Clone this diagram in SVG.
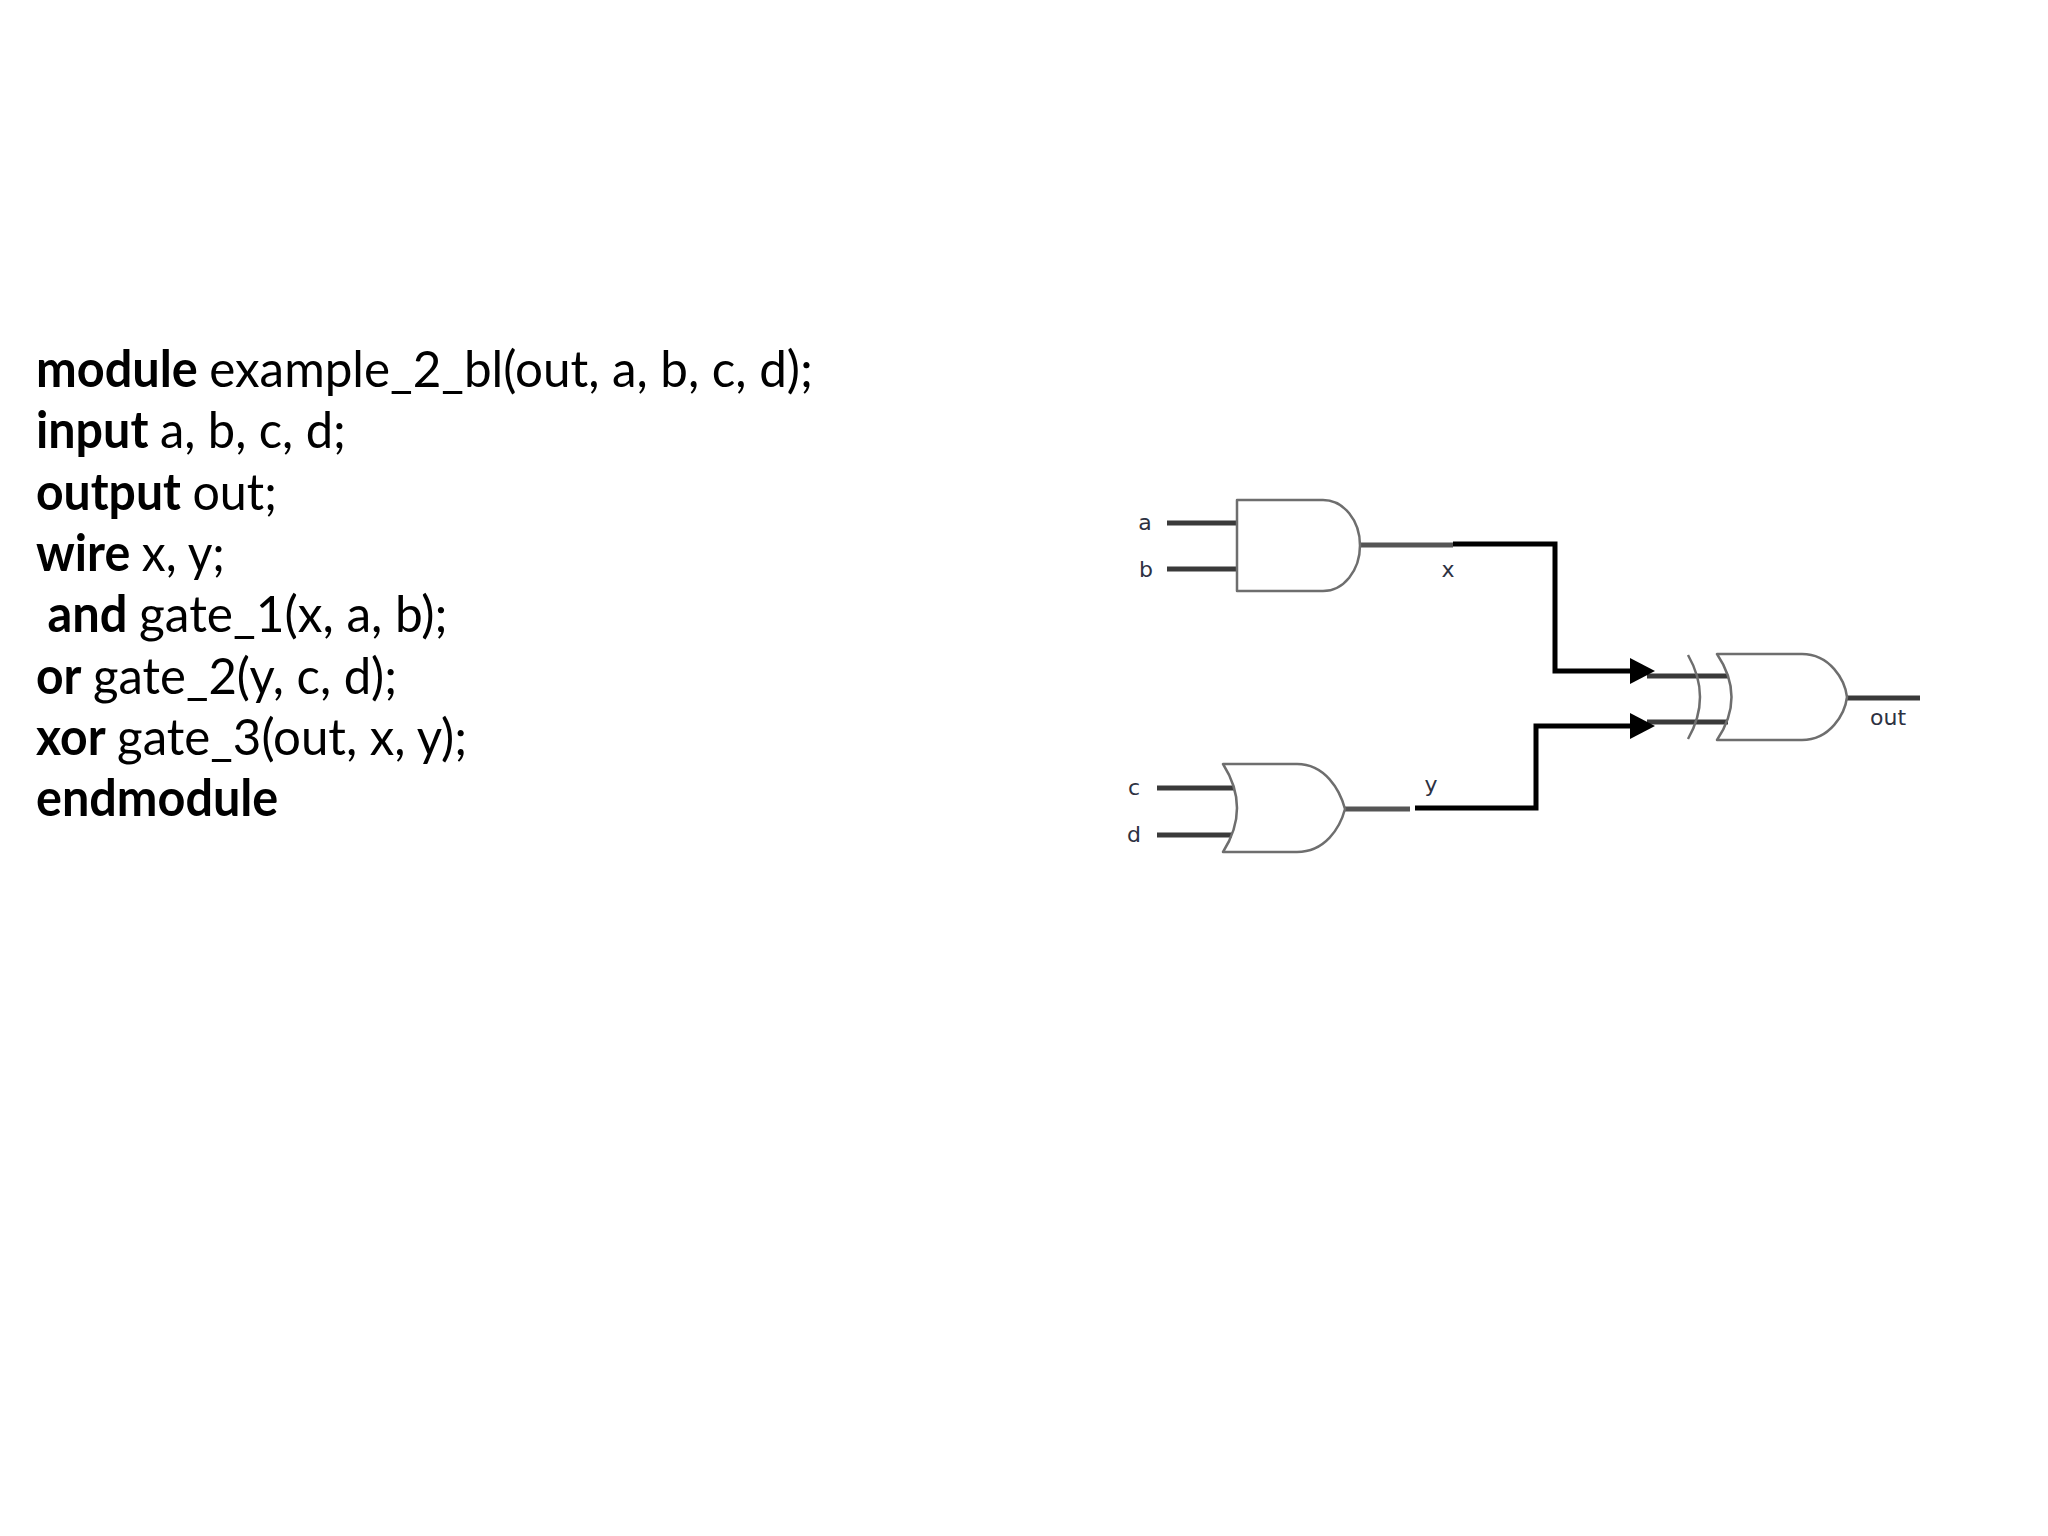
<svg xmlns="http://www.w3.org/2000/svg" width="2048" height="1536" viewBox="0 0 2048 1536">
  <style>
    .code { font-family: Lato, "Open Sans", "Liberation Sans", sans-serif; font-size: 51px; fill: #000; }
    .kw { font-weight: 700; }
    .gate { fill: none; stroke: #6e6e6e; stroke-width: 2.5; stroke-linejoin: round; }
    .arc { fill: none; stroke: #6e6e6e; stroke-width: 2.5; }
    .pin { fill: none; stroke: #3a3a3a; stroke-width: 5; }
    .pin2 { fill: none; stroke: #555; stroke-width: 5; }
    .wire { fill: none; stroke: #000; stroke-width: 5; stroke-linejoin: miter; }
    .lbl { font-family: "DejaVu Sans", Verdana, sans-serif; font-size: 22px; fill: #2d3142; text-anchor: middle; }
  </style>
  <defs>
    <marker id="arrow" viewBox="0 0 25 26" refX="15" refY="13" markerWidth="25" markerHeight="26" markerUnits="userSpaceOnUse" orient="auto">
      <path d="M0,0 L25,13 L0,26 Z" fill="#000"/>
    </marker>
  </defs>
  <rect width="2048" height="1536" fill="#fff"/>

  <g id="code">
    <text class="code" y="387"><tspan class="kw" x="36" textLength="161.8" lengthAdjust="spacingAndGlyphs">module</tspan><tspan x="209.3" textLength="603.6" lengthAdjust="spacingAndGlyphs">example_2_bl(out, a, b, c, d);</tspan></text>
    <text class="code" y="448.3"><tspan class="kw" x="36" textLength="112.4" lengthAdjust="spacingAndGlyphs">input</tspan><tspan x="159.9" textLength="186" lengthAdjust="spacingAndGlyphs">a, b, c, d;</tspan></text>
    <text class="code" y="509.6"><tspan class="kw" x="36" textLength="144.9" lengthAdjust="spacingAndGlyphs">output</tspan><tspan x="192.4" textLength="84.4" lengthAdjust="spacingAndGlyphs">out;</tspan></text>
    <text class="code" y="570.9"><tspan class="kw" x="36" textLength="94.3" lengthAdjust="spacingAndGlyphs">wire</tspan><tspan x="141.8" textLength="83.1" lengthAdjust="spacingAndGlyphs">x, y;</tspan></text>
    <text class="code" y="632.2"><tspan class="kw" x="47.5" textLength="80" lengthAdjust="spacingAndGlyphs">and</tspan><tspan x="139" textLength="308.6" lengthAdjust="spacingAndGlyphs">gate_1(x, a, b);</tspan></text>
    <text class="code" y="693.5"><tspan class="kw" x="36" textLength="45.5" lengthAdjust="spacingAndGlyphs">or</tspan><tspan x="93" textLength="304" lengthAdjust="spacingAndGlyphs">gate_2(y, c, d);</tspan></text>
    <text class="code" y="754.8"><tspan class="kw" x="36" textLength="69.6" lengthAdjust="spacingAndGlyphs">xor</tspan><tspan x="117.1" textLength="350" lengthAdjust="spacingAndGlyphs">gate_3(out, x, y);</tspan></text>
    <text class="code" y="816.1"><tspan class="kw" x="36" textLength="242.3" lengthAdjust="spacingAndGlyphs">endmodule</tspan></text>
  </g>

  <g id="connectors">
    <path class="pin" d="M1167,523 H1237"/>
    <path class="pin" d="M1167,569 H1237"/>
    <path class="pin" d="M1157,788 H1234"/>
    <path class="pin" d="M1157,835 H1232"/>
    <path class="pin2" d="M1360,545 H1453"/>
    <path class="pin2" d="M1345,809 H1410"/>
    <path class="pin" d="M1647,676 H1728"/>
    <path class="pin" d="M1647,722 H1728"/>
    <path class="pin" d="M1847,698 H1920"/>
    <path class="wire" d="M1453,544 H1555 V671 H1645" marker-end="url(#arrow)"/>
    <path class="wire" d="M1415,808 H1536 V726 H1645" marker-end="url(#arrow)"/>
  </g>

  <g id="gate_1">
    <path class="gate" d="M1237,500 H1323 A37,45.5 0 0 1 1323,591 H1237 Z"/>
  </g>

  <g id="gate_2">
    <path class="gate" d="M1223,764 H1297 C1325,764 1340,790 1345,809 C1340,828 1325,852 1297,852 H1223 Q1251,808 1223,764 Z"/>
  </g>

  <g id="gate_3">
    <path class="arc" d="M1688,655 Q1712,697 1688,739"/>
    <path class="gate" d="M1717,654 H1802 C1830,654 1845,680 1847,697 C1845,714 1830,740 1802,740 H1717 Q1746,697 1717,654 Z"/>
  </g>

  <g id="labels">
    <text class="lbl" x="1145" y="530">a</text>
    <text class="lbl" x="1146" y="577">b</text>
    <text class="lbl" x="1134" y="795">c</text>
    <text class="lbl" x="1134" y="842">d</text>
    <text class="lbl" x="1448" y="577">x</text>
    <text class="lbl" x="1431" y="792">y</text>
    <text class="lbl" x="1888" y="725">out</text>
  </g>
</svg>
